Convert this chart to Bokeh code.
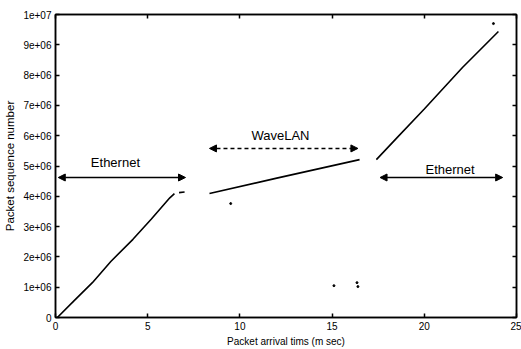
from bokeh.plotting import figure
from bokeh.models import (LinearAxis, FixedTicker, Arrow, NormalHead, Label, Range1d)
from bokeh.embed import file_html
from bokeh.resources import INLINE

# ---- data ----
eth1_x = [0.1, 1.0, 2.0, 3.0, 4.2, 5.2, 6.2, 6.45]
eth1_y = [0.0, 0.55e6, 1.15e6, 1.85e6, 2.58e6, 3.25e6, 3.95e6, 4.09e6]
eth1b_x = [6.7, 7.0]
eth1b_y = [4.12e6, 4.14e6]
wlan_x = [8.35, 12.0, 16.49]
wlan_y = [4.09e6, 4.6e6, 5.21e6]
eth2_x = [17.4, 18.5, 20.0, 22.07, 24.02]
eth2_y = [5.21e6, 5.92e6, 6.88e6, 8.25e6, 9.44e6]
stray_x = [9.5, 15.1, 16.35, 16.4, 23.75]
stray_y = [3.76e6, 1.05e6, 1.15e6, 1.02e6, 9.7e6]

x_ticks = [0, 5, 10, 15, 20, 25]
y_ticks = [0, 1000000, 2000000, 3000000, 4000000, 5000000,
           6000000, 7000000, 8000000, 9000000, 10000000]
y_tick_labels = ["0", "1e+06", "2e+06", "3e+06", "4e+06", "5e+06",
                 "6e+06", "7e+06", "8e+06", "9e+06", "1e+07"]

# annotations: (x_start, x_end, y) and (label, x, y)
arrow_eth1 = (0.15, 7.05, 4.62e6)
arrow_wlan = (8.35, 16.4, 5.58e6)
arrow_eth2 = (17.6, 24.25, 4.62e6)
labels = [("Ethernet", 3.25, 5.1e6), ("WaveLAN", 12.2, 6.0e6), ("Ethernet", 21.4, 4.88e6)]

FONT = "Liberation Sans"

p = figure(width=521, height=349, x_range=Range1d(0, 25), y_range=Range1d(0, 1e7),
           output_backend="svg", toolbar_location=None,
           min_border_left=55, min_border_right=5, min_border_top=14, min_border_bottom=32)
p.xgrid.visible = False
p.ygrid.visible = False
p.outline_line_color = "black"
p.outline_line_width = 1.5
p.background_fill_color = "white"
p.border_fill_color = "white"

def style_axis(ax, show_labels=True):
    ax.axis_line_color = "black"
    ax.axis_line_width = 1.5
    ax.major_tick_in = 4
    ax.major_tick_out = 0
    ax.major_tick_line_color = "black"
    ax.major_tick_line_width = 1.5
    ax.minor_tick_line_color = None
    ax.major_label_text_font = FONT
    ax.major_label_text_font_size = "10px"
    ax.major_label_text_color = "black"
    ax.major_label_standoff = 4
    if not show_labels:
        ax.major_label_overrides = {v: "" for v in ax.ticker.ticks}
        ax.major_label_standoff = 0

xa = p.xaxis[0]
xa.ticker = FixedTicker(ticks=x_ticks)
style_axis(xa)
xa.axis_label = "Packet arrival tims (m sec)"
xa.axis_label_text_font = FONT
xa.axis_label_text_font_size = "10px"
xa.axis_label_text_font_style = "normal"
xa.axis_label_text_color = "black"
xa.axis_label_standoff = 3

ya = p.yaxis[0]
ya.ticker = FixedTicker(ticks=y_ticks)
ya.major_label_overrides = {v: s for v, s in zip(y_ticks, y_tick_labels)}
style_axis(ya)
ya.axis_label = "Packet sequence number"
ya.axis_label_text_font = FONT
ya.axis_label_text_font_size = "11.5px"
ya.axis_label_text_font_style = "normal"
ya.axis_label_text_color = "black"
ya.axis_label_standoff = 4

ra = LinearAxis(ticker=FixedTicker(ticks=y_ticks))
style_axis(ra, show_labels=False)
p.add_layout(ra, "right")
ta = LinearAxis(ticker=FixedTicker(ticks=x_ticks))
style_axis(ta, show_labels=False)
p.add_layout(ta, "above")

for xs, ys in [(eth1_x, eth1_y), (eth1b_x, eth1b_y), (wlan_x, wlan_y), (eth2_x, eth2_y)]:
    p.line(xs, ys, line_color="black", line_width=1.6)
p.scatter(stray_x, stray_y, size=2, color="black")

for (xs, xe, yy), dash in [(arrow_eth1, "solid"), (arrow_wlan, "4 3"), (arrow_eth2, "solid")]:
    p.add_layout(Arrow(x_start=xs, y_start=yy, x_end=xe, y_end=yy,
                       line_color="black", line_width=1.4, line_dash=dash,
                       start=NormalHead(size=7, fill_color="black", line_color="black", line_width=1),
                       end=NormalHead(size=7, fill_color="black", line_color="black", line_width=1)))

for txt, lx, ly in labels:
    p.add_layout(Label(x=lx, y=ly, text=txt, text_font=FONT, text_font_size="13px",
                       text_align="center", text_baseline="middle", text_color="black"))

open("out.html", "w").write(file_html(p, INLINE))
